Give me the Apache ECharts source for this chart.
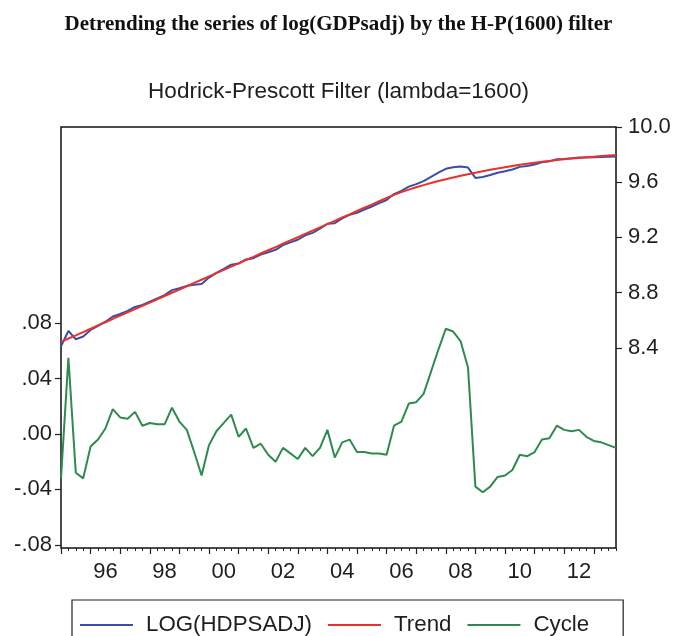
<!DOCTYPE html>
<html>
<head>
<meta charset="utf-8">
<script src="https://cdn.jsdelivr.net/npm/echarts@6/dist/echarts.min.js"></script>
<style>
  html, body { margin: 0; padding: 0; background: #fff; }
  #chart { width: 677px; height: 636px; }
</style>
</head>
<body>
<div id="chart"></div>
<script>
// Quarterly sample 1995Q1 - 2013Q4
const startYear = 1995;
const endYear = 2013;
const quarters = [];
for (let y = startYear; y <= endYear; y++) {
  for (let q = 1; q <= 4; q++) quarters.push(y + 'Q' + q);
}

// log of seasonally adjusted series (right scale)
const logSeries = [
  8.411, 8.522, 8.462, 8.482, 8.529, 8.558, 8.589, 8.627, 8.645, 8.667,
  8.696, 8.710, 8.735, 8.758, 8.782, 8.818, 8.831, 8.849, 8.857, 8.863,
  8.909, 8.943, 8.972, 9.002, 9.010, 9.040, 9.049, 9.076, 9.092, 9.110,
  9.144, 9.164, 9.183, 9.215, 9.233, 9.263, 9.299, 9.303, 9.338, 9.363,
  9.378, 9.402, 9.424, 9.448, 9.471, 9.514, 9.537, 9.568, 9.586, 9.608,
  9.639, 9.669, 9.697, 9.708, 9.713, 9.706, 9.631, 9.638, 9.652, 9.669,
  9.679, 9.692, 9.711, 9.718, 9.728, 9.744, 9.751, 9.766, 9.769, 9.773,
  9.779, 9.779, 9.780, 9.783, 9.785, 9.787
];

// HP trend (right scale)
const trendSeries = [
  8.443, 8.467, 8.490, 8.514, 8.538, 8.562, 8.585, 8.609, 8.633, 8.656,
  8.680, 8.704, 8.727, 8.751, 8.775, 8.799, 8.822, 8.846, 8.870, 8.893,
  8.917, 8.941, 8.964, 8.988, 9.012, 9.036, 9.059, 9.083, 9.107, 9.130,
  9.154, 9.178, 9.201, 9.225, 9.249, 9.273, 9.296, 9.320, 9.344, 9.367,
  9.391, 9.415, 9.438, 9.462, 9.486, 9.508, 9.528, 9.546, 9.563, 9.579,
  9.594, 9.608, 9.621, 9.634, 9.646, 9.658, 9.669, 9.680, 9.690, 9.700,
  9.709, 9.718, 9.726, 9.734, 9.741, 9.748, 9.754, 9.760, 9.766, 9.771,
  9.776, 9.781, 9.785, 9.789, 9.793, 9.797
];

// cyclical component (left scale)
const cycleSeries = [
  -0.032, 0.055, -0.028, -0.032, -0.009, -0.004, 0.004, 0.018, 0.012, 0.011,
  0.016, 0.006, 0.008, 0.007, 0.007, 0.019, 0.009, 0.003, -0.013, -0.030,
  -0.008, 0.002, 0.008, 0.014, -0.002, 0.004, -0.010, -0.007, -0.015, -0.020,
  -0.010, -0.014, -0.018, -0.010, -0.016, -0.010, 0.003, -0.017, -0.006, -0.004,
  -0.013, -0.013, -0.014, -0.014, -0.015, 0.006, 0.009, 0.022, 0.023, 0.029,
  0.045, 0.061, 0.076, 0.074, 0.067, 0.048, -0.038, -0.042, -0.038, -0.031,
  -0.030, -0.026, -0.015, -0.016, -0.013, -0.004, -0.003, 0.006, 0.003, 0.002,
  0.003, -0.002, -0.005, -0.006, -0.008, -0.010
];

// axis labels
const yearLabels = ['96', '98', '00', '02', '04', '06', '08', '10', '12'];
const leftTicks = [-0.08, -0.04, 0, 0.04, 0.08];
const rightTicks = [8.4, 8.8, 9.2, 9.6, 10.0];

// year labels sit mid-year (third quarter), major ticks at each year's first quarter
const yearLabelPos = yearLabels.map(function (s) {
  const yr = (Number(s) < 50 ? 2000 : 1900) + Number(s);
  return quarters.indexOf(yr + 'Q3');
});
const yearStartPos = [];
const quarterPos = [];
quarters.forEach(function (q, i) {
  quarterPos.push(i);
  if (q.endsWith('Q1')) yearStartPos.push(i);
});
const labelByPos = {};
yearLabelPos.forEach(function (p, k) { labelByPos[p] = yearLabels[k]; });

const toPairs = function (arr) { return arr.map(function (v, i) { return [i, v]; }); };

const sans = "'Liberation Sans', Arial, Helvetica, sans-serif";
const ink = '#1e1e1e';
const lastIdx = quarters.length - 1;

const chart = echarts.init(document.getElementById('chart'), null, { renderer: 'canvas' });
chart.setOption({
  animation: false,
  backgroundColor: '#ffffff',
  title: [
    {
      text: 'Detrending the series of log(GDPsadj) by the H-P(1600) filter',
      left: 'center', top: 9,
      textStyle: { fontFamily: "'Liberation Serif', 'Times New Roman', serif", fontWeight: 'bold', fontSize: 21, color: '#111' }
    },
    {
      text: 'Hodrick-Prescott Filter (lambda=1600)',
      left: 'center', top: 75,
      textStyle: { fontFamily: sans, fontWeight: 'normal', fontSize: 22.5, color: ink }
    }
  ],
  legend: {
    left: 72, top: 600,
    padding: [14, 34, 14, 8],
    borderColor: '#222', borderWidth: 1.2,
    icon: 'rect',
    itemWidth: 53, itemHeight: 2, itemGap: 16,
    textStyle: { fontFamily: sans, fontSize: 22.3, color: ink, padding: [0, 0, 0, 8] },
    data: ['LOG(HDPSADJ)', 'Trend', 'Cycle']
  },
  grid: {
    left: 61, right: 61, top: 127, bottom: 88,
    show: true, borderColor: '#111', borderWidth: 1.5, backgroundColor: 'transparent'
  },
  xAxis: [
    {
      type: 'value', min: 0, max: lastIdx, position: 'bottom',
      axisLine: { show: false, onZero: false },
      splitLine: { show: false },
      axisTick: { show: true, length: 6, lineStyle: { color: '#222', width: 1.2 }, customValues: yearStartPos },
      axisLabel: {
        customValues: yearLabelPos, margin: 13,
        fontFamily: sans, fontSize: 22, color: ink,
        formatter: function (v) { return labelByPos[Math.round(v)] || ''; }
      }
    },
    {
      type: 'value', min: 0, max: lastIdx, position: 'bottom',
      axisLine: { show: false, onZero: false },
      splitLine: { show: false },
      axisTick: { show: true, length: 3, lineStyle: { color: '#222', width: 1 }, customValues: quarterPos },
      axisLabel: { show: false }
    }
  ],
  yAxis: [
    {
      type: 'value', position: 'left', min: -0.0823, max: 0.2217,
      axisLine: { show: false, onZero: false },
      splitLine: { show: false },
      axisTick: { show: true, length: 6, lineStyle: { color: '#222', width: 1.2 }, customValues: leftTicks },
      axisLabel: {
        customValues: leftTicks, margin: 9,
        fontFamily: sans, fontSize: 22, color: ink,
        formatter: function (v) {
          const s = Math.abs(v).toFixed(2).replace(/^0/, '');
          return (v < -1e-9 ? '-' : '') + s;
        }
      }
    },
    {
      type: 'value', position: 'right', min: 6.949, max: 10.0,
      axisLine: { show: false, onZero: false },
      splitLine: { show: false },
      axisTick: { show: true, length: 6, lineStyle: { color: '#222', width: 1.2 }, customValues: rightTicks },
      axisLabel: {
        customValues: rightTicks, margin: 12,
        fontFamily: sans, fontSize: 22, color: ink,
        formatter: function (v) { return v.toFixed(1); }
      }
    }
  ],
  series: [
    {
      name: 'LOG(HDPSADJ)', type: 'line', xAxisIndex: 0, yAxisIndex: 1,
      data: toPairs(logSeries), symbol: 'none',
      lineStyle: { color: '#3b4ea6', width: 2 }, itemStyle: { color: '#3b4ea6' }
    },
    {
      name: 'Trend', type: 'line', xAxisIndex: 0, yAxisIndex: 1,
      data: toPairs(trendSeries), symbol: 'none',
      lineStyle: { color: '#e8322c', width: 2 }, itemStyle: { color: '#e8322c' }
    },
    {
      name: 'Cycle', type: 'line', xAxisIndex: 0, yAxisIndex: 0,
      data: toPairs(cycleSeries), symbol: 'none',
      lineStyle: { color: '#2e8a4e', width: 2 }, itemStyle: { color: '#2e8a4e' }
    }
  ]
});
</script>
</body>
</html>
